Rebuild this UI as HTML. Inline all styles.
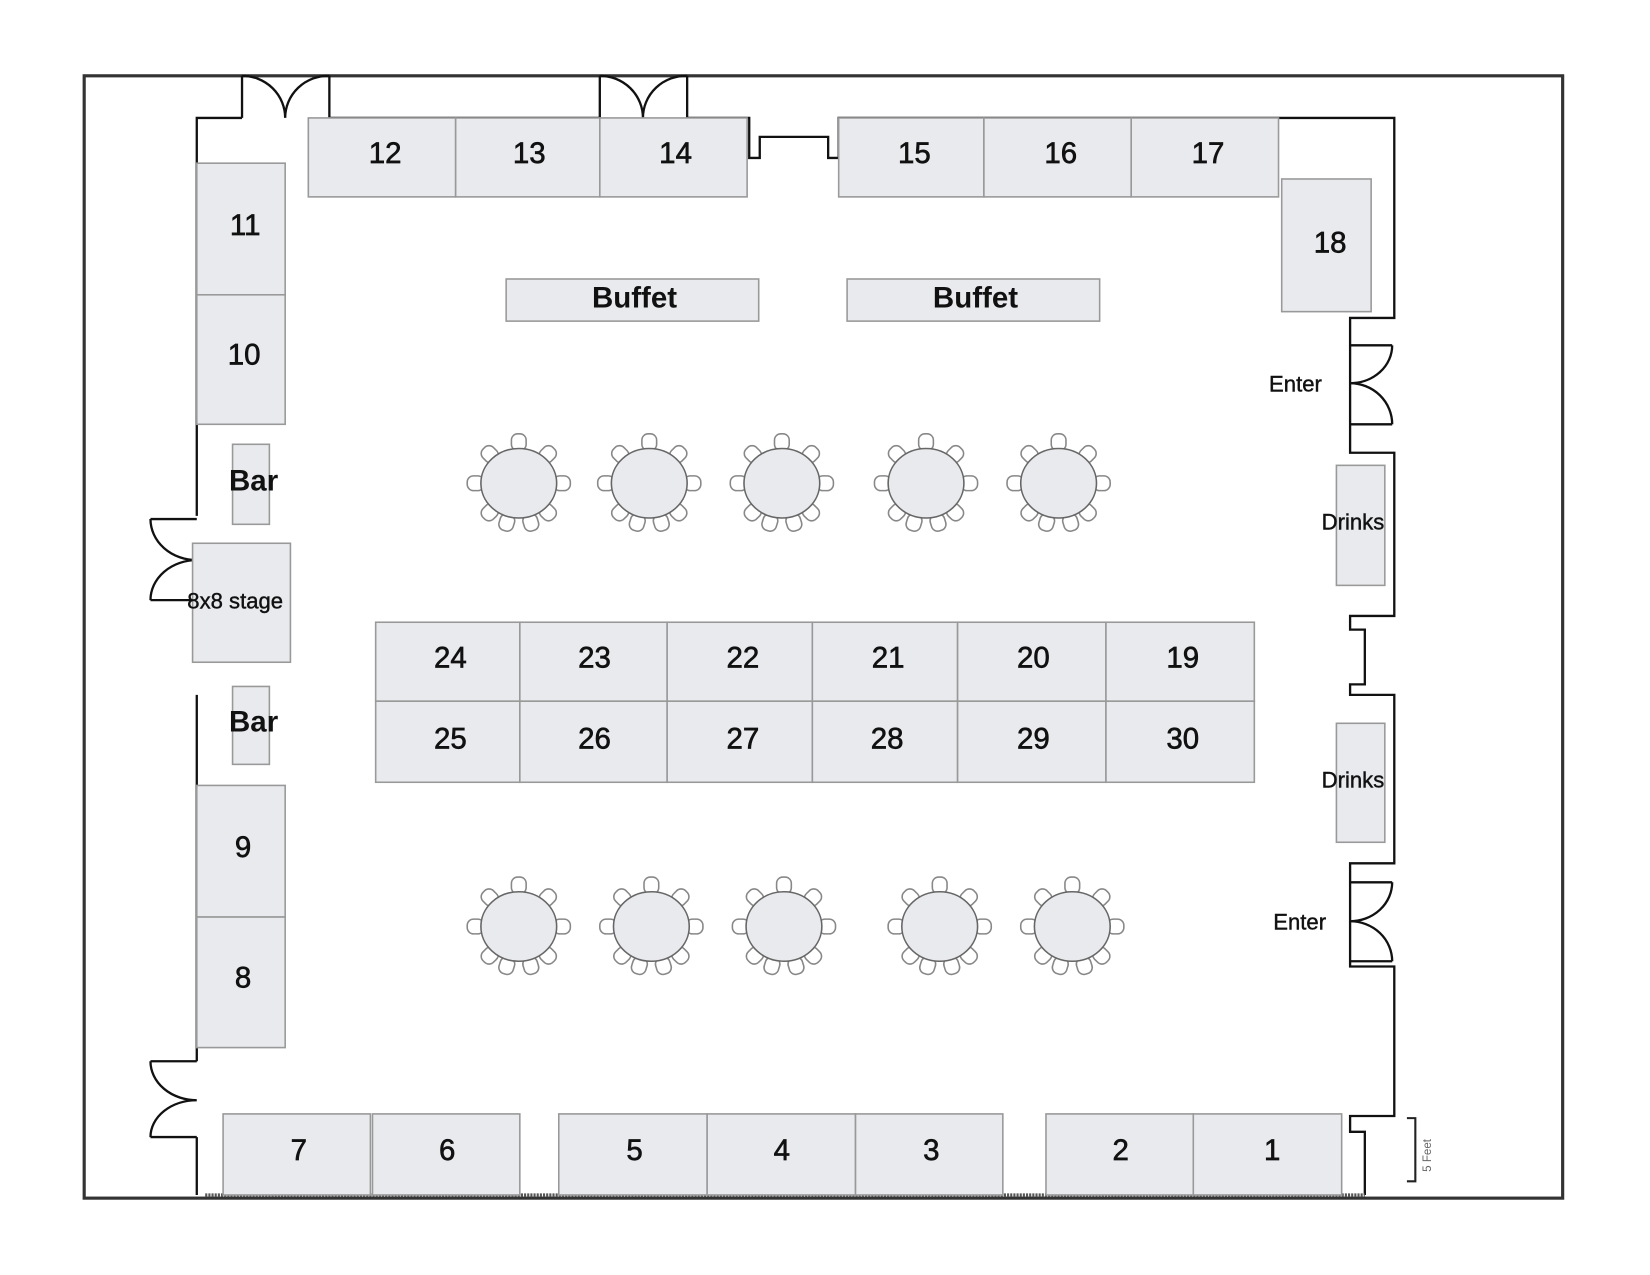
<!DOCTYPE html>
<html><head><meta charset="utf-8"><style>html,body{margin:0;padding:0;background:#fff}svg{display:block}</style></head><body>
<svg width="1650" height="1275" viewBox="0 0 1568 1211" preserveAspectRatio="none" xmlns="http://www.w3.org/2000/svg" font-family="Liberation Sans, sans-serif">
<defs>
<g id="rt">
<g fill="#fff" stroke="#888" stroke-width="1.5">
<rect x="-7" y="-47" width="14" height="16" rx="6" transform="rotate(0)"/>
<rect x="-7" y="-47" width="14" height="16" rx="6" transform="rotate(45)"/>
<rect x="-7" y="-47" width="14" height="16" rx="6" transform="rotate(-45)"/>
<rect x="-7" y="-49" width="14" height="16" rx="6" transform="rotate(90)"/>
<rect x="-7" y="-49" width="14" height="16" rx="6" transform="rotate(-90)"/>
<rect x="-7" y="-47" width="14" height="16" rx="6" transform="rotate(135)"/>
<rect x="-7" y="-47" width="14" height="16" rx="6" transform="rotate(-135)"/>
<rect x="-7" y="-47" width="14" height="16" rx="6" transform="rotate(163)"/>
<rect x="-7" y="-47" width="14" height="16" rx="6" transform="rotate(-163)"/>
</g>
<ellipse cx="0" cy="0" rx="36" ry="33" fill="#e8eaed" stroke="#666" stroke-width="1.5"/>
</g>
</defs>
<rect x="80" y="72" width="1405" height="1066" fill="none" stroke="#333" stroke-width="3"/>
<g fill="none" stroke="#111" stroke-width="2.2">
<path d="M187,490 V112 H230 M313,112 H570 M653,112 H712 V150 H722 V130 H787 V150 H797 V112 H1325 V302 H1283 V430 H1325 V585 H1283 V598 H1297 V650 H1283 V660 H1325 V820 H1283 V918 H1325 V1060 H1283 V1075 H1297 V1135"/>
<path d="M187,660 V1008 M187,1080 V1135"/>
<path d="M230,72 V112 M313,72 V112 M230,72 A41,40 0 0 1 271,112 M313,72 A41,40 0 0 0 271,112"/>
<path d="M570,72 V112 M653,72 V112 M570,72 A41,40 0 0 1 611,112 M653,72 A41,40 0 0 0 611,112"/>
<path d="M1283,328 H1323 M1283,403 H1323 M1323,328 A40,36 0 0 1 1283,364 M1323,403 A40,39 0 0 0 1283,364"/>
<path d="M1283,838 H1323 M1283,913 H1323 M1323,838 A40,37 0 0 1 1283,875 M1323,913 A40,38 0 0 0 1283,875"/>
<path d="M143,493 H187 M143,570 H187 M143,493 A44,39 0 0 0 187,532 M143,570 A44,38 0 0 1 187,532"/>
<path d="M143,1008 H187 M143,1080 H187 M143,1008 A44,37 0 0 0 187,1045 M143,1080 A44,35 0 0 1 187,1045"/>
</g>
<line x1="195" y1="1135" x2="1297" y2="1135" stroke="#555" stroke-width="3" stroke-dasharray="2 1"/>
<path d="M1337,1062 H1345 V1122 H1337" fill="none" stroke="#222" stroke-width="2"/>
<text x="0" y="0" font-size="11" fill="#666" transform="translate(1360,1113) rotate(-90)">5 Feet</text>
<g fill="#e8eaed" stroke="#999" stroke-width="1.5">
<rect x="293" y="112" width="140" height="75"/><rect x="433" y="112" width="137" height="75"/><rect x="570" y="112" width="140" height="75"/>
<rect x="797" y="112" width="138" height="75"/><rect x="935" y="112" width="140" height="75"/><rect x="1075" y="112" width="140" height="75"/>
<rect x="1218" y="170" width="85" height="126"/>
<rect x="187" y="155" width="84" height="125"/><rect x="187" y="280" width="84" height="123"/>
<rect x="187" y="746" width="84" height="125"/><rect x="187" y="871" width="84" height="124"/>
<rect x="221" y="422" width="35" height="76"/><rect x="221" y="652" width="35" height="74"/>
<rect x="183" y="516" width="93" height="113"/>
<rect x="481" y="265" width="240" height="40"/><rect x="805" y="265" width="240" height="40"/>
<rect x="357" y="591" width="137" height="75"/><rect x="494" y="591" width="140" height="75"/><rect x="634" y="591" width="138" height="75"/><rect x="772" y="591" width="138" height="75"/><rect x="910" y="591" width="141" height="75"/><rect x="1051" y="591" width="141" height="75"/>
<rect x="357" y="666" width="137" height="77"/><rect x="494" y="666" width="140" height="77"/><rect x="634" y="666" width="138" height="77"/><rect x="772" y="666" width="138" height="77"/><rect x="910" y="666" width="141" height="77"/><rect x="1051" y="666" width="141" height="77"/>
<rect x="212" y="1058" width="140" height="77"/><rect x="354" y="1058" width="140" height="77"/>
<rect x="531" y="1058" width="141" height="77"/><rect x="672" y="1058" width="141" height="77"/><rect x="813" y="1058" width="140" height="77"/>
<rect x="994" y="1058" width="140" height="77"/><rect x="1134" y="1058" width="141" height="77"/>
<rect x="1270" y="442" width="46" height="114"/><rect x="1270" y="687" width="46" height="113"/>
</g>
<use href="#rt" x="493" y="459"/><use href="#rt" x="617" y="459"/><use href="#rt" x="743" y="459"/><use href="#rt" x="880" y="459"/><use href="#rt" x="1006" y="459"/>
<use href="#rt" x="493" y="880"/><use href="#rt" x="619" y="880"/><use href="#rt" x="745" y="880"/><use href="#rt" x="893" y="880"/><use href="#rt" x="1019" y="880"/>
<g font-size="28" fill="#111" stroke="#111" stroke-width="0.6" text-anchor="middle">
<text x="366" y="155">12</text><text x="503" y="155">13</text><text x="642" y="155">14</text>
<text x="869" y="155">15</text><text x="1008" y="155">16</text><text x="1148" y="155">17</text>
<text x="1264" y="240">18</text>
<text x="233" y="223">11</text><text x="232" y="346">10</text>
<text x="231" y="814">9</text><text x="231" y="938">8</text>
<text x="428" y="634">24</text><text x="565" y="634">23</text><text x="706" y="634">22</text><text x="844" y="634">21</text><text x="982" y="634">20</text><text x="1124" y="634">19</text>
<text x="428" y="711">25</text><text x="565" y="711">26</text><text x="706" y="711">27</text><text x="843" y="711">28</text><text x="982" y="711">29</text><text x="1124" y="711">30</text>
<text x="284" y="1102">7</text><text x="425" y="1102">6</text><text x="603" y="1102">5</text><text x="743" y="1102">4</text><text x="885" y="1102">3</text><text x="1065" y="1102">2</text><text x="1209" y="1102">1</text>
</g>
<g font-size="28" font-weight="bold" fill="#111" text-anchor="middle">
<text x="603" y="292">Buffet</text><text x="927" y="292">Buffet</text>
<text x="241" y="466">Bar</text><text x="241" y="695">Bar</text>
</g>
<g font-size="21" fill="#111" stroke="#111" stroke-width="0.4">
<text x="178" y="578">8x8 stage</text>
<text x="1206" y="372">Enter</text><text x="1210" y="883">Enter</text>
<text x="1256" y="503">Drinks</text><text x="1256" y="748">Drinks</text>
</g>
</svg>
</body></html>
